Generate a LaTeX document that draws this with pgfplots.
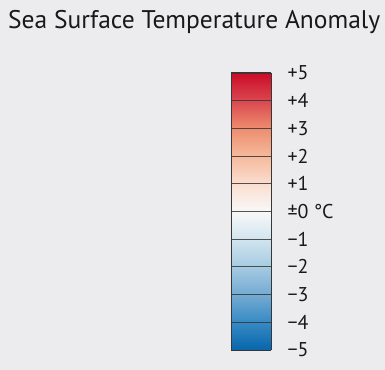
\documentclass[border=0pt]{standalone}
\usepackage{pgfplots}
\pgfplotsset{compat=1.18}
\usepackage{fontspec}
\setmainfont{PT Sans}
\definecolor{bggray}{RGB}{236,236,238}
\definecolor{linegray}{RGB}{55,55,55}
\begin{document}
\begin{tikzpicture}
\fill[bggray] (0,0) rectangle (385bp,370bp);
\useasboundingbox (0,0) rectangle (385bp,370bp);
\node[anchor=base west, inner sep=0pt, font=\fontsize{25.6}{28}\selectfont, text=black!90] at (8bp,341bp) {Sea Surface Temperature Anomaly};
\begin{axis}[
  at={(231bp,20bp)}, anchor=south west,
  scale only axis, width=40bp, height=277bp,
  xmin=0, xmax=1, ymin=-5, ymax=5,
  view={0}{90},
  colormap={anomaly}{
    rgb255(0cm)=(8,102,172);
    rgb255(1cm)=(55,138,196);
    rgb255(2cm)=(115,170,210);
    rgb255(3cm)=(165,202,225);
    rgb255(4cm)=(210,229,239);
    rgb255(5cm)=(248,248,248);
    rgb255(6cm)=(250,222,208);
    rgb255(7cm)=(245,185,155);
    rgb255(8cm)=(238,140,110);
    rgb255(9cm)=(218,72,80);
    rgb255(10cm)=(204,12,40)
  },
  point meta min=-5, point meta max=5,
  xtick=\empty,
  ytick={-5,-4,-3,-2,-1,0,1,2,3,4,5},
  yticklabels={−5,−4,−3,−2,−1,±0 °C,+1,+2,+3,+4,+5},
  yticklabel pos=right,
  major tick length=0pt,
  yticklabel style={anchor=west, xshift=13bp, font=\fontsize{20}{22}\selectfont, text=black!90},
  ymajorgrids,
  grid style={linegray, line width=0.9pt, opacity=0.85},
  axis line style={linegray, line width=1pt},
  axis on top,
]
\addplot3[surf, shader=interp, point meta=y, mesh/rows=11, mesh/cols=2] table {
x y z
0 -5 0
1 -5 0
0 -4 0
1 -4 0
0 -3 0
1 -3 0
0 -2 0
1 -2 0
0 -1 0
1 -1 0
0 0 0
1 0 0
0 1 0
1 1 0
0 2 0
1 2 0
0 3 0
1 3 0
0 4 0
1 4 0
0 5 0
1 5 0
};
\end{axis}
\end{tikzpicture}
\end{document}
